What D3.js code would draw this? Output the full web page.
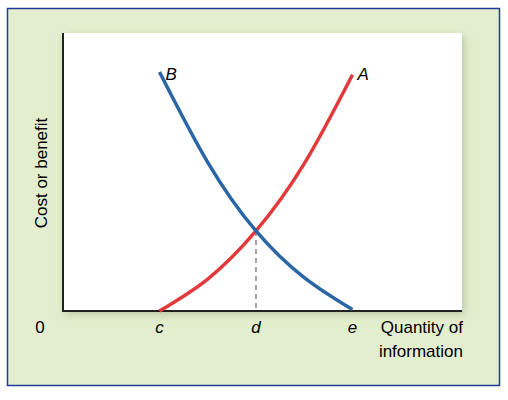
<!DOCTYPE html>
<html><head><meta charset="utf-8">
<script src="https://cdn.jsdelivr.net/npm/d3@7"></script>
<style>body{margin:0;background:#fff}text{font-family:Arial,"Liberation Sans",sans-serif}</style>
</head><body><svg id="c" width="508" height="400"></svg>
<script>
// curve points in axis units (x: c=2, d=4, e=6)
const xs = [2, 3, 4, 5, 6];
const costA = [0, 1.15, 2.88, 5.3, 8.5];
const benefitB = [8.6, 5.35, 2.88, 1.2, 0.05];
const ticks = [{v: 0, t: '0'}, {v: 2, t: 'c'}, {v: 4, t: 'd'}, {v: 6, t: 'e'}];
const crossX = 4, crossY = 2.88;

const svg = d3.select('#c');
svg.append('rect').attr('x', 7.5).attr('y', 8.5).attr('width', 492).attr('height', 377)
  .attr('fill', '#e3eecf').attr('stroke', '#1f3c98').attr('stroke-width', 1.5);

const defs = svg.append('defs');
const f = defs.append('filter').attr('id', 'sh').attr('x', '-10%').attr('y', '-10%').attr('width', '120%').attr('height', '120%');
f.append('feDropShadow').attr('dx', 2).attr('dy', 3).attr('stdDeviation', 4).attr('flood-color', '#8a9a70').attr('flood-opacity', 0.5);

const x = d3.scaleLinear().domain([0, 8.27]).range([63, 462]);
const y = d3.scaleLinear().domain([0, 10]).range([311, 33]);

svg.append('rect').attr('x', 63).attr('y', 33).attr('width', 399).attr('height', 278)
  .attr('fill', '#fff').attr('filter', 'url(#sh)');

svg.append('line').attr('x1', 63).attr('x2', 63).attr('y1', 33).attr('y2', 312).attr('stroke', '#222').attr('stroke-width', 2);
svg.append('line').attr('x1', 62).attr('x2', 462).attr('y1', 311).attr('y2', 311).attr('stroke', '#222').attr('stroke-width', 2);

svg.append('line').attr('x1', x(crossX)).attr('x2', x(crossX)).attr('y1', y(crossY)).attr('y2', 311)
  .attr('stroke', '#888').attr('stroke-width', 1.5).attr('stroke-dasharray', '5,4');

const line = vals => d3.line().x((d, i) => x(xs[i])).y(d => y(d)).curve(d3.curveNatural)(vals);
svg.append('path').attr('d', line(costA)).attr('fill', 'none').attr('stroke', '#e23a3a').attr('stroke-width', 3.5);
svg.append('path').attr('d', line(benefitB)).attr('fill', 'none').attr('stroke', '#2a66a6').attr('stroke-width', 3.5);

svg.append('text').attr('x', x(2) + 6).attr('y', 80).attr('font-style', 'italic').attr('font-size', 17).text('B');
svg.append('text').attr('x', x(6) + 5).attr('y', 80).attr('font-style', 'italic').attr('font-size', 17).text('A');

svg.selectAll('.tk').data(ticks).join('text')
  .attr('x', d => d.v === 0 ? 40 : x(d.v)).attr('y', 333).attr('text-anchor', 'middle')
  .attr('font-size', 17).attr('font-style', d => d.v === 0 ? 'normal' : 'italic').text(d => d.t);

svg.append('text').attr('x', 463).attr('y', 333).attr('text-anchor', 'end').attr('font-size', 17).text('Quantity of');
svg.append('text').attr('x', 463).attr('y', 357).attr('text-anchor', 'end').attr('font-size', 17).text('information');
svg.append('text').attr('transform', 'translate(47,173) rotate(-90)').attr('text-anchor', 'middle').attr('font-size', 17).text('Cost or benefit');
</script></body></html>
